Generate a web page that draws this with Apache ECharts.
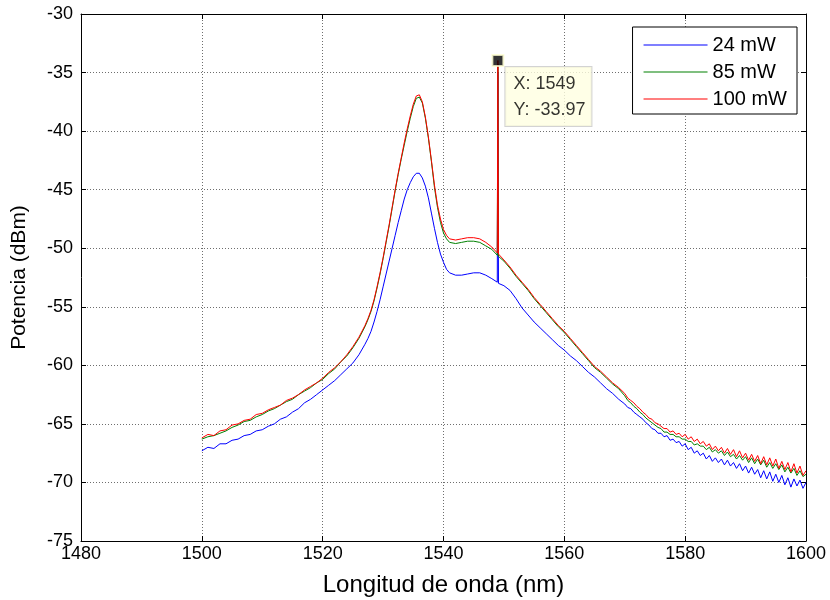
<!DOCTYPE html>
<html>
<head>
<meta charset="utf-8">
<script src="https://cdn.jsdelivr.net/npm/echarts@6/dist/echarts.min.js"></script>
<style>
  html, body { margin: 0; padding: 0; background: #ffffff; }
  #chart { width: 830px; height: 600px; }
</style>
</head>
<body>
<div id="chart"></div>
<script>
// Wavelength samples (nm), shared by the three spectra
const wavelengths = [
  1500,1501,1502,1503,1504,1505,1506,1507,1508,1509,1510,1511,1512,1513,1514,1515,1516,1517,1518,1519,1520,1521,1522,1523,1524,1525,1526,1527,
  1527.5,1528,1528.5,1529,1529.5,1530,1530.5,1531,1531.5,1532,1532.5,1533,1533.5,1534,1534.5,1535,1535.5,1536,1536.5,1537,1537.5,1538,1538.5,1539,1539.5,1540,1540.5,1541,
  1542,1543,1544,1545,1546,1547,1548,1548.9,1549,1549.1,
  1550,1551,1552,1553,1554,1555,1556,1557,1558,1559,1560,1561,1562,1563,1564,1565,1566,1567,1568,1569,
  1570,1570.5,1571,1571.5,1572,1572.5,1573,1573.5,1574,1574.5,1575,1575.5,1576,1576.5,1577,1577.5,1578,1578.5,1579,1579.5,
  1580,1580.5,1581,1581.5,1582,1582.5,1583,1583.5,1584,1584.5,1585,1585.5,1586,1586.5,1587,1587.5,1588,1588.5,1589,1589.5,
  1590,1590.5,1591,1591.5,1592,1592.5,1593,1593.5,1594,1594.5,1595,1595.5,1596,1596.5,1597,1597.5,1598,1598.5,1599,1599.5,1600
];

// Power spectrum at 24 mW pump (dBm)
const power24 = [
  -67.3,-67.0,-67.1,-66.7,-66.7,-66.4,-66.3,-66.0,-65.9,-65.6,-65.5,-65.2,-65.0,-64.6,-64.4,-64.0,-63.7,-63.2,-62.9,-62.5,-62.1,-61.7,-61.3,-60.8,-60.3,-59.8,-59.1,-58.2,
  -57.7,-57.1,-56.3,-55.4,-54.4,-53.3,-52.2,-51.1,-50.0,-48.9,-47.8,-46.8,-45.8,-45.0,-44.4,-43.9,-43.6,-43.6,-44.0,-44.7,-45.7,-47.0,-48.3,-49.5,-50.5,-51.2,-51.8,-52.1,
  -52.3,-52.3,-52.2,-52.1,-52.1,-52.3,-52.6,-52.9,-35.0,-53.0,
  -53.2,-53.6,-54.3,-55.1,-55.7,-56.3,-56.8,-57.3,-57.8,-58.3,-58.7,-59.2,-59.6,-60.1,-60.6,-61.0,-61.5,-62.0,-62.4,-62.9,
  -63.3,-63.6,-63.7,-64.0,-64.2,-64.4,-64.6,-64.9,-65.1,-65.4,-65.5,-65.8,-65.8,-66.1,-66.0,-66.4,-66.3,-66.6,-66.5,-66.9,
  -66.7,-67.2,-67.0,-67.5,-67.3,-67.7,-67.5,-68.0,-67.7,-68.2,-67.9,-68.3,-68.0,-68.5,-68.1,-68.6,-68.3,-68.8,-68.4,-69.0,
  -68.6,-69.2,-68.7,-69.3,-68.9,-69.6,-69.0,-69.7,-69.1,-69.9,-69.3,-70.0,-69.4,-70.2,-69.6,-70.4,-69.7,-70.3,-69.8,-70.5,-70.0
];

// Power spectrum at 85 mW pump (dBm)
const power85 = [
  -66.3,-66.1,-66.0,-65.8,-65.6,-65.3,-65.1,-64.8,-64.7,-64.4,-64.2,-63.9,-63.7,-63.4,-63.1,-62.9,-62.5,-62.2,-61.9,-61.5,-61.2,-60.7,-60.3,-59.7,-59.2,-58.5,-57.7,-56.7,
  -56.1,-55.4,-54.5,-53.4,-52.2,-50.9,-49.5,-48.1,-46.6,-45.1,-43.7,-42.4,-41.2,-40.0,-38.9,-37.9,-37.2,-37.1,-37.6,-38.9,-40.6,-42.6,-44.8,-46.5,-47.8,-48.7,-49.2,-49.5,
  -49.6,-49.5,-49.4,-49.4,-49.5,-49.8,-50.1,-50.6,-34.3,-50.7,
  -51.1,-51.7,-52.4,-53.0,-53.6,-54.3,-54.9,-55.5,-56.1,-56.7,-57.2,-57.8,-58.4,-59.0,-59.6,-60.2,-60.6,-61.1,-61.6,-62.0,
  -62.6,-63.0,-63.2,-63.5,-63.7,-64.0,-64.2,-64.5,-64.7,-64.9,-65.1,-65.3,-65.4,-65.7,-65.7,-65.9,-65.9,-66.1,-66.1,-66.3,
  -66.3,-66.5,-66.5,-66.8,-66.7,-66.9,-66.9,-67.2,-67.0,-67.4,-67.2,-67.5,-67.3,-67.7,-67.4,-67.8,-67.6,-68.0,-67.7,-68.1,
  -67.8,-68.3,-67.9,-68.4,-68.0,-68.5,-68.1,-68.7,-68.3,-68.8,-68.4,-68.9,-68.5,-69.1,-68.7,-69.2,-68.8,-69.4,-69.0,-69.5,-69.3
];

// Power spectrum at 100 mW pump (dBm)
const power100 = [
  -66.2,-65.9,-66.0,-65.6,-65.5,-65.1,-65.0,-64.7,-64.6,-64.2,-64.1,-63.8,-63.6,-63.4,-63.0,-62.8,-62.5,-62.1,-61.8,-61.5,-61.1,-60.6,-60.2,-59.7,-59.1,-58.4,-57.6,-56.6,
  -56.0,-55.3,-54.4,-53.3,-52.1,-50.8,-49.4,-48.0,-46.5,-45.0,-43.6,-42.3,-41.0,-39.8,-38.7,-37.7,-37.0,-36.9,-37.5,-38.8,-40.5,-42.5,-44.6,-46.3,-47.5,-48.4,-48.9,-49.2,
  -49.3,-49.2,-49.1,-49.1,-49.2,-49.5,-49.9,-50.4,-33.97,-50.5,
  -51.0,-51.6,-52.3,-52.9,-53.5,-54.2,-54.8,-55.4,-56.0,-56.6,-57.1,-57.7,-58.3,-58.9,-59.5,-60.1,-60.5,-61.0,-61.5,-61.9,
  -62.4,-62.8,-63.0,-63.2,-63.5,-63.7,-64.0,-64.2,-64.5,-64.6,-64.9,-65.0,-65.2,-65.4,-65.4,-65.7,-65.6,-65.9,-65.8,-66.1,
  -65.9,-66.3,-66.1,-66.5,-66.3,-66.7,-66.5,-66.9,-66.7,-67.2,-66.9,-67.3,-67.0,-67.5,-67.1,-67.6,-67.2,-67.8,-67.3,-67.9,
  -67.5,-68.1,-67.6,-68.2,-67.7,-68.4,-67.8,-68.5,-67.9,-68.6,-68.0,-68.8,-68.2,-68.9,-68.3,-69.1,-68.4,-69.2,-68.6,-69.4,-69.0
];

const seriesNames = ['24 mW', '85 mW', '100 mW'];
const seriesColors = ['#0000ff', '#008000', '#ff0000'];

// Data cursor on the 100 mW peak
const tipPoint = [1549, -33.97];

const FONT = '"Liberation Sans", Arial, sans-serif';

// Legend sample: a 1px horizontal stroke centred in a 64x14 box
const LINE_ICON = 'path://M0,0 M0,6.5 L64,6.5 L64,7.5 L0,7.5 Z M64,14';

function pairs(values) {
  return wavelengths.map((w, i) => [w, values[i]]);
}

const chart = echarts.init(document.getElementById('chart'), null, { renderer: 'canvas' });

const axisCommon = {
  axisLine: { show: true, onZero: false, lineStyle: { color: '#000', width: 1 } },
  axisTick: { show: true, inside: true, length: 5, lineStyle: { color: '#000' } },
};

const gridLine = { show: true, lineStyle: { color: '#6e6e6e', type: [1, 2], width: 1 } };

const option = {
  animation: false,
  backgroundColor: '#ffffff',
  grid: { left: 81, right: 24, top: 14, bottom: 59, containLabel: false, outerBoundsMode: 'none' },
  legend: {
    data: seriesNames.map(n => ({ name: n, icon: LINE_ICON })),
    orient: 'vertical',
    right: 33,
    top: 27,
    itemWidth: 64,
    itemHeight: 14,
    itemGap: 7,
    padding: [8, 10, 5, 11],
    backgroundColor: '#ffffff',
    borderColor: '#000000',
    borderWidth: 1,
    itemStyle: { borderWidth: 0 },
    textStyle: { color: '#000', fontSize: 20, fontFamily: FONT },
    selectedMode: false
  },
  xAxis: [
    Object.assign({}, axisCommon, {
      type: 'value', min: 1480, max: 1600, interval: 20, position: 'bottom',
      name: 'Longitud de onda (nm)', nameLocation: 'middle', nameGap: 44, nameMoveOverlap: false,
      nameTextStyle: { color: '#000', fontSize: 24, fontFamily: FONT, verticalAlign: 'middle' },
      axisLabel: { color: '#000', fontSize: 18, fontFamily: FONT, margin: 4, formatter: v => String(v) },
      splitLine: gridLine
    }),
    Object.assign({}, axisCommon, {
      type: 'value', min: 1480, max: 1600, interval: 20, position: 'top',
      axisLabel: { show: false }, splitLine: { show: false }
    })
  ],
  yAxis: [
    Object.assign({}, axisCommon, {
      type: 'value', min: -75, max: -30, interval: 5, position: 'left',
      name: 'Potencia (dBm)', nameLocation: 'middle', nameGap: 51, nameRotate: 90, nameMoveOverlap: false,
      nameTextStyle: { color: '#000', fontSize: 21, fontFamily: FONT },
      axisLabel: { color: '#000', fontSize: 18, fontFamily: FONT, margin: 8, formatter: v => String(v) },
      splitLine: gridLine
    }),
    Object.assign({}, axisCommon, {
      type: 'value', min: -75, max: -30, interval: 5, position: 'right',
      axisLabel: { show: false }, splitLine: { show: false }
    })
  ],
  series: [
    { name: seriesNames[0], data: pairs(power24) },
    { name: seriesNames[1], data: pairs(power85) },
    { name: seriesNames[2], data: pairs(power100) }
  ].map((s, i) => Object.assign(s, {
    type: 'line',
    xAxisIndex: 0, yAxisIndex: 0,
    symbol: 'none',
    smooth: false,
    color: seriesColors[i],
    itemStyle: { color: seriesColors[i] },
    lineStyle: { color: seriesColors[i], width: 1 },
    z: 2 + i
  })).concat([{
    name: 'cursor',
    type: 'scatter',
    xAxisIndex: 0, yAxisIndex: 0,
    data: [tipPoint],
    symbol: 'rect',
    symbolSize: 11,
    z: 10,
    itemStyle: { color: '#000000', borderColor: '#ffffd2', borderWidth: 2 },
    label: {
      show: true,
      position: [14, 13],
      align: 'left',
      verticalAlign: 'top',
      formatter: p => 'X: ' + p.value[0] + '\nY: ' + p.value[1].toFixed(2),
      color: '#000',
      fontSize: 18,
      fontFamily: FONT,
      lineHeight: 26,
      backgroundColor: '#ffffe1',
      borderColor: '#c8c8c8',
      borderWidth: 1,
      padding: [4, 6, 3, 8]
    }
  }])
};

chart.setOption(option);
</script>
</body>
</html>
